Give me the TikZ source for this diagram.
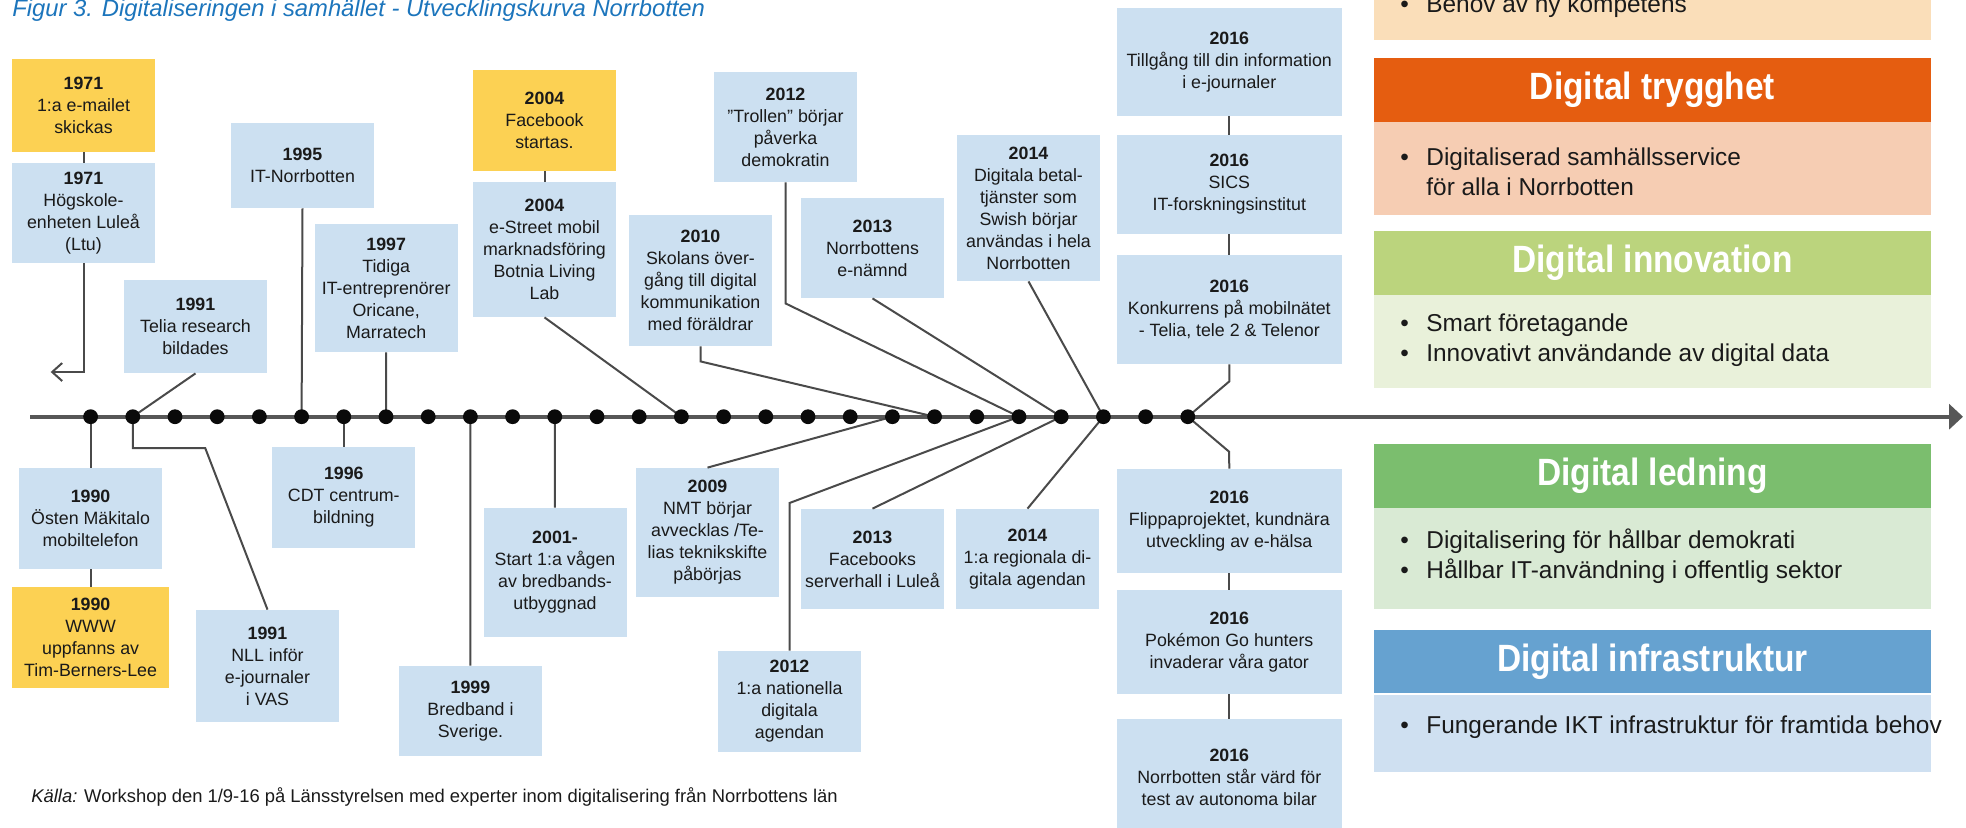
\documentclass[tikz,border=0pt]{standalone}
\usepackage{fontspec}
\setmainfont{Liberation Sans}
\newfontfamily\headfont{Liberation Sans}[FakeStretch=0.88]
\usetikzlibrary{arrows.meta}
\definecolor{titleblue}{HTML}{1C75BC}
\definecolor{boxblue}{HTML}{CCE0F1}
\definecolor{boxyellow}{HTML}{FCD153}
\definecolor{linegray}{HTML}{4A4A4A}
\definecolor{axisgray}{HTML}{575757}
\definecolor{dotcol}{HTML}{0A0A0A}
\definecolor{txt}{HTML}{1A1A1A}
\definecolor{kompB}{HTML}{FADEB9}
\definecolor{tryggH}{HTML}{E55D10}
\definecolor{tryggB}{HTML}{F6CDB3}
\definecolor{innovH}{HTML}{BBD47D}
\definecolor{innovB}{HTML}{E9F1DA}
\definecolor{ledH}{HTML}{7BBE6E}
\definecolor{ledB}{HTML}{D9EAD4}
\definecolor{infraH}{HTML}{66A2D0}
\definecolor{infraB}{HTML}{CFE0F1}
\newcommand{\yr}[1]{\textbf{#1}}
\newcommand{\bul}{\makebox[13pt][l]{\textbullet}}
\begin{document}
\begin{tikzpicture}[x=0.5pt,y=-0.5pt,
  box/.style={fill=boxblue, inner sep=0pt, align=center, text=txt,
    font=\fontsize{8.9}{11}\selectfont, minimum width=71.5pt},
  ybox/.style={box, fill=boxyellow},
  wbox/.style={box, minimum width=112.7pt},
  conn/.style={draw=linegray, line width=1pt},
  axis/.style={draw=axisgray, line width=2.2pt, -{Triangle[length=7pt,width=12.5pt]}},
  dotmark/.style={circle, fill=dotcol, inner sep=0pt, minimum size=7.4pt},
  phead/.style={inner sep=0pt, minimum width=278.5pt, minimum height=32pt, text=white,
    font=\headfont\bfseries\fontsize{19}{22}\selectfont},
  pbody/.style={inner sep=0pt, minimum width=278.5pt},
  btxt/.style={anchor=base west, inner sep=0pt, text=txt, font=\fontsize{12.2}{15}\selectfont},
]
\useasboundingbox (0,0) rectangle (1966,827);

% title and source
\node[anchor=base west, inner sep=0pt, text=titleblue, font=\itshape\fontsize{11.9}{14}\selectfont]
  (title) at (12,16.5) {Figur 3. Digitaliseringen i samhället - Utvecklingskurva Norrbotten};
\node[anchor=base west, inner sep=0pt, text=txt, font=\fontsize{9.2}{11}\selectfont]
  (kalla) at (31,802) {\textit{Källa:} Workshop den 1/9-16 på Länsstyrelsen med experter inom digitalisering från Norrbottens län};

% axis and dot positions
\coordinate (axstart) at (30,416.7);
\coordinate (axend) at (1963,416.7);
\foreach \i in {0,...,26} { \coordinate (d\i) at ({90.6+42.2*\i},416.7); }
\draw[axis] (axstart) -- (axend);

% boxes above the axis
\node[ybox, minimum height=46.5pt] (y1971) at (83.5,105.5) {\yr{1971}\\1:a e-mailet\\skickas};
\node[box, minimum height=50pt] (b1971) at (83.5,213) {\yr{1971}\\Högskole-\\enheten Luleå\\(Ltu)};
\node[box, minimum height=46.5pt] (b1991t) at (195.5,326.5) {\yr{1991}\\Telia research\\bildades};
\node[box, minimum height=42.5pt] (b1995) at (302.5,165.5) {\yr{1995}\\IT-Norrbotten};
\node[box, minimum height=64pt] (b1997) at (386.2,288) {\yr{1997}\\Tidiga\\IT-entreprenörer\\Oricane,\\Marratech};
\node[ybox, minimum height=50.5pt] (y2004) at (544.5,120.5) {\yr{2004}\\Facebook\\startas.};
\node[box, minimum height=67.5pt] (b2004) at (544.5,249.5) {\yr{2004}\\e-Street mobil\\marknadsföring\\Botnia Living\\Lab};
\node[box, minimum height=65.5pt] (b2010) at (700.5,280.5) {\yr{2010}\\Skolans över-\\gång till digital\\kommunikation\\med föräldrar};
\node[box, minimum height=55pt] (b2012t) at (785.5,127) {\yr{2012}\\”Trollen” börjar\\påverka\\demokratin};
\node[box, minimum height=50pt] (b2013n) at (872.5,248) {\yr{2013}\\Norrbottens\\e-nämnd};
\node[box, minimum height=73pt] (b2014d) at (1028.5,208) {\yr{2014}\\Digitala betal-\\tjänster som\\Swish börjar\\användas i hela\\Norrbotten};
\node[wbox, minimum height=54pt] (b2016a) at (1229.3,62) {\yr{2016}\\Tillgång till din information\\i e-journaler};
\node[wbox, minimum height=49.5pt] (b2016b) at (1229.3,184.5) {\yr{2016}\\SICS\\IT-forskningsinstitut};
\node[wbox, minimum height=54.5pt] (b2016c) at (1229.3,309.5) {\yr{2016}\\Konkurrens på mobilnätet\\- Telia, tele 2 \& Telenor};

% boxes below the axis
\node[box, minimum height=50.5pt] (b1990) at (90.6,518.5) {\yr{1990}\\Östen Mäkitalo\\mobiltelefon};
\node[ybox, minimum width=78.5pt, minimum height=50.5pt] (y1990) at (90.6,637.5) {\yr{1990}\\WWW\\uppfanns av\\Tim-Berners-Lee};
\node[box, minimum height=56pt] (b1991n) at (267.5,666) {\yr{1991}\\NLL inför\\e-journaler\\i VAS};
\node[box, minimum height=50.5pt] (b1996) at (343.8,497.5) {\yr{1996}\\CDT centrum-\\bildning};
\node[box, minimum height=45pt] (b1999) at (470.5,711) {\yr{1999}\\Bredband i\\Sverige.};
\node[box, minimum height=64.5pt] (b2001) at (555,572.5) {\yr{2001-}\\Start 1:a vågen\\av bredbands-\\utbyggnad};
\node[box, minimum height=64.5pt] (b2009) at (707.5,532.5) {\yr{2009}\\NMT börjar\\avvecklas /Te-\\lias teknikskifte\\påbörjas};
\node[box, minimum height=50.5pt] (b2012n) at (789.5,701.5) {\yr{2012}\\1:a nationella\\digitala\\agendan};
\node[box, minimum height=50pt] (b2013f) at (872.5,559) {\yr{2013}\\Facebooks\\serverhall i Luleå};
\node[box, minimum height=50pt] (b2014r) at (1027.5,559) {\yr{2014}\\1:a regionala di-\\gitala agendan};
\node[wbox, minimum height=52pt] (b2016d) at (1229.3,521) {\yr{2016}\\Flippaprojektet, kundnära\\utveckling av e-hälsa};
\node[wbox, minimum height=52pt] (b2016e) at (1229.3,642) {\yr{2016}\\Pokémon Go hunters\\invaderar våra gator};
\node[wbox, minimum height=58.5pt] (b2016f) at (1229.3,777.5) {\yr{2016}\\Norrbotten står värd för\\test av autonoma bilar};

% connectors above
\coordinate (arr1971) at (50.7,372);
\draw[conn] (y1971) -- (b1971);
\draw[conn, -{Straight Barb[length=5pt,width=9pt]}] (b1971.south) |- (arr1971);
\draw[conn] (b1991t.south) -- (d1);
\draw[conn] (b1995.south) -- (d5);
\draw[conn] (b1997.south) -- (d7);
\draw[conn] (y2004) -- (b2004);
\draw[conn] (b2004.south) -- (d14);
\draw[conn] (b2010.south) -- ++(0,15) -- (d20);
\draw[conn] (b2012t.south) -- ++(0,121) -- (d22);
\draw[conn] (b2013n.south) -- (d23);
\draw[conn] (b2014d.south) -- (d24);
\draw[conn] (b2016a) -- (b2016b);
\draw[conn] (b2016b) -- (b2016c);
\draw[conn] (b2016c.south) -- ++(0,17) -- (d26);

% connectors below
\coordinate (k2012n) at (789.5,503);
\draw[conn] (d0) -- (b1990);
\draw[conn] (b1990) -- (y1990);
\draw[conn] (d1) -- ++(0,31.3) -- ++(72.4,0) -- (b1991n.north);
\draw[conn] (d6) -- (b1996);
\draw[conn] (d9) -- (b1999);
\draw[conn] (d11) -- (b2001);
\draw[conn] (d19) -- (b2009.north);
\draw[conn] (d22) -- (k2012n) -- (b2012n.north);
\draw[conn] (d23) -- (b2013f.north);
\draw[conn] (d24) -- (b2014r.north);
\draw[conn] (d26) -- ++(41.3,35) -- (b2016d.north);
\draw[conn] (b2016d) -- (b2016e);
\draw[conn] (b2016e) -- (b2016f);

% dots
\foreach \i in {0,...,26} { \node[dotmark] (dot\i) at (d\i) {}; }

% right panels
\node[pbody, fill=kompB, minimum height=20pt] (pKomp) at (1652.5,20) {};
\node[btxt] (tKomp) at (1400,12.5) {\bul Behov av ny kompetens};

\node[phead, fill=tryggH] (hTrygg) at (1652.5,90) {Digital trygghet};
\node[pbody, fill=tryggB, minimum height=46.5pt] (pTrygg) at (1652.5,168.5) {};
\node[btxt] (tTrygg1) at (1400,165) {\bul Digitaliserad samhällsservice};
\node[btxt] (tTrygg2) at (1426,195) {för alla i Norrbotten};

\node[phead, fill=innovH] (hInnov) at (1652.5,263) {Digital innovation};
\node[pbody, fill=innovB, minimum height=46.5pt] (pInnov) at (1652.5,341.5) {};
\node[btxt] (tInnov1) at (1400,331.5) {\bul Smart företagande};
\node[btxt] (tInnov2) at (1400,361.5) {\bul Innovativt användande av digital data};

\node[phead, fill=ledH] (hLed) at (1652.5,476) {Digital ledning};
\node[pbody, fill=ledB, minimum height=50.5pt] (pLed) at (1652.5,558.5) {};
\node[btxt] (tLed1) at (1400,548) {\bul Digitalisering för hållbar demokrati};
\node[btxt] (tLed2) at (1400,578) {\bul Hållbar IT-användning i offentlig sektor};

\node[phead, fill=infraH, minimum height=31.5pt] (hInfra) at (1652.5,661.5) {Digital infrastruktur};
\node[pbody, fill=infraB, minimum height=38.5pt] (pInfra) at (1652.5,733.5) {};
\node[btxt] (tInfra1) at (1400,733) {\bul Fungerande IKT infrastruktur för framtida behov};
\end{tikzpicture}
\end{document}
